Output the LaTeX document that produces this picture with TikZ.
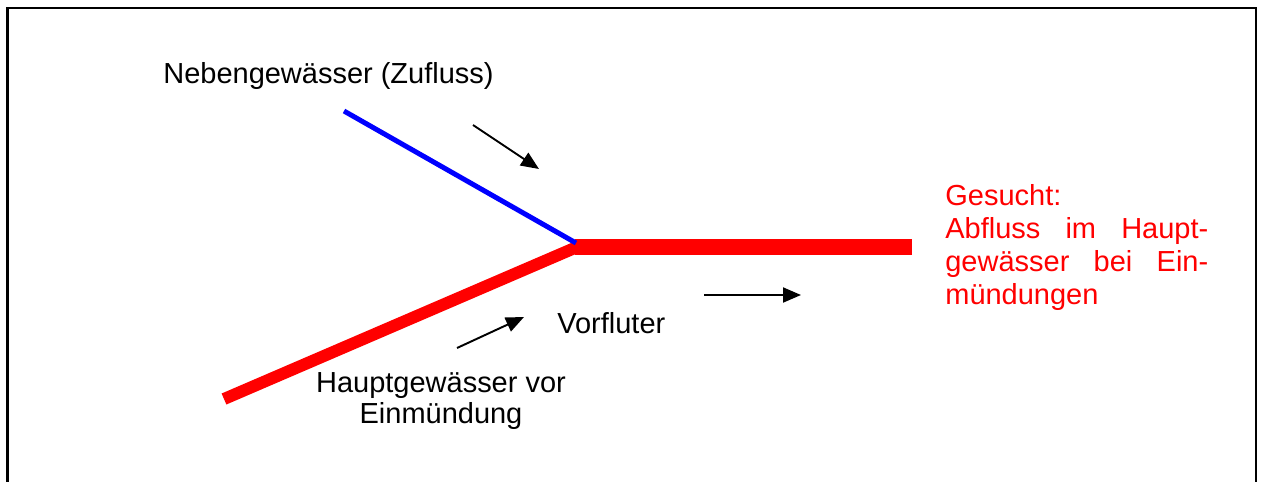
\documentclass[tikz,border=0pt]{standalone}
\usepackage{fontspec}
\setmainfont{Liberation Sans}
\usetikzlibrary{arrows.meta}
\begin{document}
\begin{tikzpicture}[x=0.02cm,y=-0.02cm,
  lbl/.style={inner sep=0pt,anchor=base west,font=\fontsize{16.5}{18.7}\selectfont},
  flowarrow/.style={line width=1.1pt,-{Triangle[length=0.36cm,width=0.3cm]}},
  frame/.style={line width=1.2pt,line cap=rect}]
\useasboundingbox (0,0) rectangle (1261,481);
% frame
\coordinate (f1) at (7.5,481);
\coordinate (f2) at (7.5,8);
\coordinate (f3) at (1256,8);
\coordinate (f4) at (1256,481);
\draw[frame] (f1) -- (f2) -- (f3) -- (f4);
% rivers
\coordinate (hs) at (224,399);
\coordinate (jr) at (577,247);
\coordinate (jh) at (575,247);
\coordinate (he) at (912,247);
\coordinate (ns) at (344,111);
\coordinate (nb) at (576,243);
\draw[red,line width=0.24cm] (hs) -- (jr);
\draw[red,line width=0.31cm] (jh) -- (he);
\draw[blue,line width=0.1cm] (ns) -- (nb);
% arrows
\coordinate (a1s) at (473,125);
\coordinate (a1e) at (539,169);
\coordinate (a2s) at (457,348);
\coordinate (a2e) at (524,317);
\coordinate (a3s) at (704,295);
\coordinate (a3e) at (801,295);
\draw[flowarrow] (a1s) -- (a1e);
\draw[flowarrow] (a2s) -- (a2e);
\draw[flowarrow] (a3s) -- (a3e);
% labels
\node[lbl] (neben) at (163,83) {Nebengewässer (Zufluss)};
\node[lbl,anchor=base,align=center,font=\fontsize{16.5}{17.3}\selectfont] (haupt) at (441,423) {Hauptgewässer vor\\Einmündung};
\node[lbl] (vorf) at (557,333) {Vorfluter};
\node[lbl,text=red,align=left,anchor=north west,font=\fontsize{16.5}{18.8}\selectfont] (gesucht) at (945,184)
  {Gesucht:\\
   \makebox[5.26cm][s]{Abfluss im Haupt-}\\
   \makebox[5.26cm][s]{gewässer bei Ein-}\\
   mündungen};
\end{tikzpicture}
\end{document}
